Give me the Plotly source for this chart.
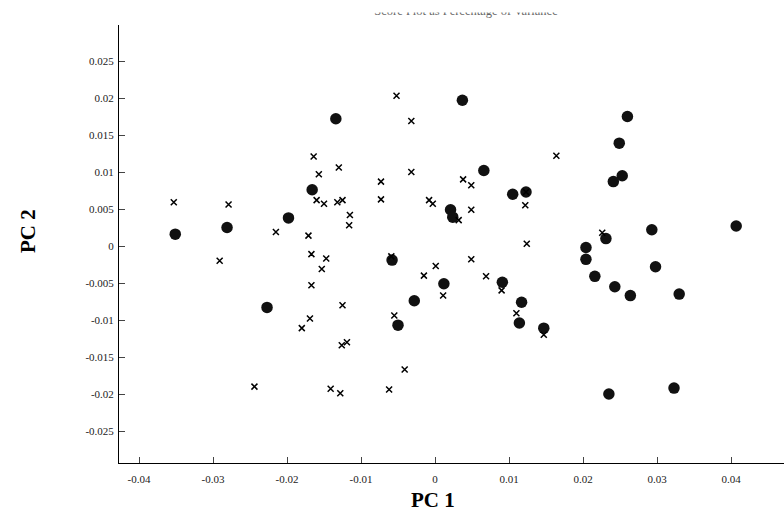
import plotly.graph_objects as go

# ---- data ----
circle_x = [-0.0351, -0.0281, -0.0198, -0.0166, -0.0134, -0.0227, -0.0058, -0.0028, -0.0050,
            0.0012, 0.0021, 0.0024, 0.0037, 0.0066, 0.0105, 0.0123, 0.0091, 0.0117, 0.0114,
            0.0147, 0.0260, 0.0249, 0.0253, 0.0241, 0.0293, 0.0407, 0.0231, 0.0204, 0.0204,
            0.0216, 0.0298, 0.0243, 0.0264, 0.0330, 0.0235, 0.0323]
circle_y = [0.0016, 0.0025, 0.0038, 0.0076, 0.0172, -0.0083, -0.0019, -0.0074, -0.0107,
            -0.0051, 0.0049, 0.0039, 0.0197, 0.0102, 0.0070, 0.0073, -0.0049, -0.0076, -0.0104,
            -0.0111, 0.0175, 0.0139, 0.0095, 0.0087, 0.0022, 0.0027, 0.0010, -0.0002, -0.0018,
            -0.0041, -0.0028, -0.0055, -0.0067, -0.0065, -0.0200, -0.0192]

cross_x = [-0.0353, -0.0279, -0.0291, -0.0215, -0.0244, -0.0171, -0.0164, -0.0157, -0.0160,
           -0.0150, -0.0132, -0.0125, -0.0130, -0.0115, -0.0116, -0.0167, -0.0147, -0.0153,
           -0.0167, -0.0169, -0.0180, -0.0125, -0.0126, -0.0119, -0.0141, -0.0128, -0.0073,
           -0.0073, -0.0052, -0.0032, -0.0032, -0.0008, -0.0003, 0.0038, 0.0049, 0.0032,
           0.0049, 0.0123, 0.0122, 0.0124, 0.0164, 0.0226, -0.0059, 0.0001, 0.0049, -0.0015,
           0.0069, 0.0090, 0.0011, -0.0055, 0.0110, 0.0147, -0.0041, -0.0062]
cross_y = [0.0059, 0.0056, -0.0020, 0.0019, -0.0190, 0.0014, 0.0121, 0.0097, 0.0062,
           0.0057, 0.0059, 0.0062, 0.0106, 0.0042, 0.0028, -0.0011, -0.0017, -0.0031,
           -0.0053, -0.0098, -0.0111, -0.0080, -0.0134, -0.0130, -0.0193, -0.0199, 0.0087,
           0.0063, 0.0203, 0.0169, 0.0100, 0.0062, 0.0057, 0.0090, 0.0082, 0.0035,
           0.0049, 0.0073, 0.0055, 0.0003, 0.0122, 0.0018, -0.0014, -0.0027, -0.0018, -0.0040,
           -0.0041, -0.0060, -0.0067, -0.0094, -0.0091, -0.0120, -0.0167, -0.0194]

x_tick_vals = [-0.04, -0.03, -0.02, -0.01, 0, 0.01, 0.02, 0.03, 0.04]
x_tick_text = ["-0.04", "-0.03", "-0.02", "-0.01", "0", "0.01", "0.02", "0.03", "0.04"]
y_tick_vals = [-0.025, -0.02, -0.015, -0.01, -0.005, 0, 0.005, 0.01, 0.015, 0.02, 0.025]
y_tick_text = ["-0.025", "-0.02", "-0.015", "-0.01", "-0.005", "0", "0.005", "0.01",
               "0.015", "0.02", "0.025"]

title_text = "Score Plot as Percentage of Variance"
x_title = "PC 1"
y_title = "PC 2"

SERIF = "Liberation Serif, Times New Roman, serif"

fig = go.Figure()
fig.add_trace(go.Scatter(
    x=circle_x, y=circle_y, mode="markers",
    marker=dict(symbol="circle", size=11.5, color="#111111", line=dict(width=0)),
    showlegend=False, hoverinfo="skip"))
fig.add_trace(go.Scatter(
    x=cross_x, y=cross_y, mode="markers",
    marker=dict(symbol="x-thin", size=6, color="#000000",
                line=dict(width=1.5, color="#000000")),
    showlegend=False, hoverinfo="skip"))

# clipped title strip (only lower part of the text visible, as in the reference)
fig.add_trace(go.Scatter(
    x=[0.5218], y=[0.53], mode="text", text=[title_text],
    textposition="top center", cliponaxis=True,
    textfont=dict(family=SERIF, size=12.5, color="#666666"),
    xaxis="x2", yaxis="y2", showlegend=False, hoverinfo="skip"))

W, H = 784, 513
ML, MR, MT, MB = 119, 0, 0, 50
plot_h = H - MT - MB  # 463

fig.update_layout(
    width=W, height=H,
    margin=dict(l=ML, r=MR, t=MT, b=MB, pad=0),
    paper_bgcolor="white", plot_bgcolor="white",
    xaxis=dict(
        range=[(ML - 435) / 7400, (W - 435) / 7400],
        showline=True, linecolor="#000000", linewidth=1,
        ticks="inside", ticklen=6, tickwidth=1, tickcolor="#444444",
        tickvals=x_tick_vals, ticktext=x_tick_text,
        tickfont=dict(family=SERIF, size=11, color="#222222"),
        ticklabelstandoff=6,
        showgrid=False, zeroline=False, mirror=False, anchor="y",
    ),
    yaxis=dict(
        domain=[0, (plot_h - 25) / plot_h],
        range=[(246 - 463) / 7400, (246 - 25) / 7400],
        showline=True, linecolor="#000000", linewidth=1,
        ticks="inside", ticklen=6, tickwidth=1, tickcolor="#444444",
        tickvals=y_tick_vals, ticktext=y_tick_text,
        tickfont=dict(family=SERIF, size=11, color="#222222"),
        ticklabelstandoff=2,
        showgrid=False, zeroline=False, mirror=False, anchor="x",
    ),
    xaxis2=dict(domain=[0, 1], range=[0, 1], visible=False, anchor="y2",
                fixedrange=True),
    yaxis2=dict(domain=[(plot_h - 24) / plot_h, (plot_h - 12.5) / plot_h],
                range=[0, 1], visible=False, anchor="x2", fixedrange=True),
    annotations=[
        dict(text=x_title, xref="paper", yref="paper",
             x=(432.5 - ML) / (W - ML - MR), y=(plot_h - 500) / plot_h,
             xanchor="center", yanchor="middle", showarrow=False,
             font=dict(family=SERIF, size=21, color="#000000", weight="bold")),
        dict(text=y_title, xref="paper", yref="paper", textangle=-90,
             x=(28 - ML) / (W - ML - MR), y=(plot_h - 231) / plot_h,
             xanchor="center", yanchor="middle", showarrow=False,
             font=dict(family=SERIF, size=21, color="#000000", weight="bold")),
    ],
)

fig.write_html("out.html")
